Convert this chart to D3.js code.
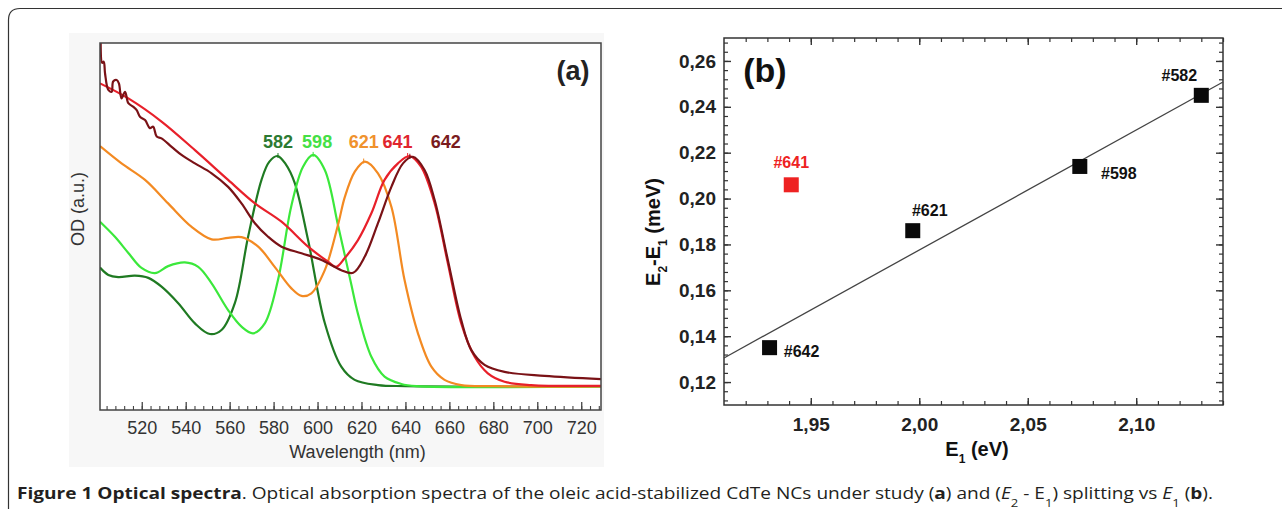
<!DOCTYPE html>
<html>
<head>
<meta charset="utf-8">
<script src="https://cdnjs.cloudflare.com/ajax/libs/d3/7.8.5/d3.min.js"></script>
<style>
  body { margin: 0; background: #fff; }
  svg { display: block; font-family: "Liberation Sans", Arial, sans-serif; }
</style>
</head>
<body>
<div id="fig"></div>
<script>
// ---- panel (a): absorption spectra, [wavelength (nm), OD (a.u.)]
var nc582 = [[501,0.388],[504.8,0.368],[509.3,0.362],[516.9,0.366],[523,0.360],[529,0.336],[536.6,0.291],
  [544.2,0.236],[551,0.207],[556.3,0.218],[562.4,0.292],[568.4,0.472],[574.5,0.627],[578,0.676],[581.8,0.692],
  [585.5,0.670],[589.6,0.619],[595.7,0.463],[603.3,0.237],[610.8,0.118],[616.9,0.082],[627.5,0.068],
  [640,0.065],[729,0.064]];
var nc598 = [[501,0.513],[507.8,0.472],[513.9,0.428],[519.9,0.387],[526,0.373],[532,0.392],[539.6,0.402],
  [545.7,0.390],[551.8,0.345],[559.3,0.272],[565.4,0.227],[570.7,0.209],[576,0.236],[582,0.354],[588,0.554],
  [593.4,0.663],[598,0.695],[603.3,0.654],[609.3,0.504],[612.4,0.422],[615.4,0.341],[618.4,0.262],
  [624.5,0.145],[630.5,0.091],[638.1,0.071],[645,0.065],[729,0.064]];
var nc621 = [[501,0.719],[510.8,0.672],[521.5,0.627],[532,0.563],[542.7,0.499],[551.8,0.465],[559.3,0.469],
  [565.4,0.471],[573,0.445],[580.5,0.390],[588,0.332],[592.7,0.311],[597.2,0.318],[603.3,0.381],[609.3,0.504],
  [612.4,0.580],[616.9,0.649],[621.5,0.677],[627.5,0.645],[633.6,0.554],[639.6,0.354],[645.7,0.209],
  [651.8,0.118],[657.8,0.082],[665.4,0.068],[680,0.065],[729,0.064]];
var nc641 = [[501,0.890],[513.9,0.849],[529,0.786],[544.2,0.708],[559.3,0.627],[571.5,0.563],[583.6,0.513],
  [595.7,0.445],[604.8,0.404],[608.5,0.390],[612.4,0.414],[618.4,0.463],[624.5,0.536],[630.5,0.627],
  [636.6,0.672],[641.9,0.692],[647.1,0.663],[653.3,0.563],[659.3,0.400],[665.4,0.236],[671.5,0.145],
  [677.5,0.100],[685.1,0.077],[697.2,0.068],[729,0.066]];
var nc642 = [[501.3,1.000],[502,0.946],[502.7,0.949],[503.3,0.917],[504.8,0.872],[506.3,0.867],[507,0.895],
  [508.6,0.899],[509.6,0.890],[510.8,0.849],[512.4,0.867],[513.9,0.836],[516.2,0.826],[517.7,0.817],
  [519.2,0.799],[521.5,0.790],[523.7,0.768],[525.2,0.772],[526.8,0.745],[529,0.740],[533.6,0.717],
  [538.1,0.695],[544.2,0.672],[551.8,0.645],[559.3,0.608],[565.4,0.563],[571.5,0.509],[577.5,0.472],
  [583.6,0.445],[592.7,0.427],[601.8,0.409],[610.8,0.381],[616.2,0.374],[621.5,0.418],[627.5,0.509],
  [633.6,0.608],[638.9,0.672],[643.4,0.690],[648.7,0.654],[653.3,0.572],[659.3,0.409],[665.4,0.245],
  [670,0.163],[676,0.123],[685.1,0.104],[703.3,0.093],[729,0.084]];
var sampleNames = ["582", "598", "621", "641", "642"];
var peakNm = [582, 598, 621, 641, 642];
var wavelengthTicks = [520, 540, 560, 580, 600, 620, 640, 660, 680, 700, 720];

// ---- panel (b): splitting vs E1
var pointLabels = ["#642", "#641", "#621", "#598", "#582"];
var e1Values = [1.931, 1.941, 1.997, 2.074, 2.130];
var splitValues = [0.135, 0.206, 0.186, 0.214, 0.245];
var fitE1 = [1.91, 2.14];
var fitSplit = [0.1305, 0.2508];
var e1Ticks = [1.95, 2.00, 2.05, 2.10];
var splitTicks = [0.12, 0.14, 0.16, 0.18, 0.20, 0.22, 0.24, 0.26];

var W = 1282, H = 509;
var svg = d3.select("#fig").append("svg")
    .attr("width", W)
    .attr("height", H);

// outer figure frame (open at right and bottom)
svg.append("path")
  .attr("d", "M8.5," + (H + 5) + " L8.5,20 Q8.5,8.5 20,8.5 L" + (W + 5) + ",8.5")
  .attr("fill", "none")
  .attr("stroke", "#333")
  .attr("stroke-width", 1.2);

// ================= panel (a)
var a = {left: 100, right: 601, top: 43, bottom: 410};

svg.append("rect")
  .attr("x", 69).attr("y", 33).attr("width", 535).attr("height", 434)
  .attr("fill", "#f7f7f7");
svg.append("rect")
  .attr("x", a.left).attr("y", a.top)
  .attr("width", a.right - a.left).attr("height", a.bottom - a.top)
  .attr("fill", "#fff");

var xa = d3.scaleLinear().domain([501, 729]).range([a.left, a.right]);
var ya = d3.scaleLinear().domain([0, 1]).range([a.bottom, a.top]);

var color = d3.scaleOrdinal()
  .domain(sampleNames)
  .range(["#1f7a22", "#3be83b", "#f38a22", "#e8202a", "#7a1216"]);
var labelColor = d3.scaleOrdinal()
  .domain(sampleNames)
  .range(["#2d7a32", "#45e045", "#f0922e", "#e0262e", "#7a1c1e"]);

svg.append("clipPath").attr("id", "clipA")
  .append("rect")
    .attr("x", a.left).attr("y", a.top - 2)
    .attr("width", a.right - a.left).attr("height", a.bottom - a.top + 2);

var line = d3.line()
  .x(function(d) { return xa(d[0]); })
  .y(function(d) { return ya(d[1]); })
  .curve(d3.curveCatmullRom.alpha(0.5));

var spectra = [nc582, nc598, nc621, nc641, nc642];
svg.append("g")
  .attr("clip-path", "url(#clipA)")
  .selectAll("path")
  .data(spectra)
  .enter()
  .append("path")
    .attr("d", line)
    .attr("fill", "none")
    .attr("stroke", function(d, i) { return color(sampleNames[i]); })
    .attr("stroke-width", 2.2)
    .attr("stroke-linejoin", "round");

// little peak markers, on the data point nearest to each peak position
function peakValue(d, i) {
  var best = d[0];
  d.forEach(function(p) { if (Math.abs(p[0] - peakNm[i]) < Math.abs(best[0] - peakNm[i])) best = p; });
  return best[1];
}
svg.append("g")
  .selectAll("line")
  .data(spectra)
  .enter()
  .append("line")
    .attr("x1", function(d, i) { return xa(peakNm[i]); })
    .attr("x2", function(d, i) { return xa(peakNm[i]); })
    .attr("y1", function(d, i) { return ya(peakValue(d, i)) - 3; })
    .attr("y2", function(d, i) { return ya(peakValue(d, i)) + 2; })
    .attr("stroke", function(d, i) { return color(sampleNames[i]); })
    .attr("stroke-width", 1);

// peak labels
var peakShift = {"582": 0, "598": 4, "621": 0, "641": -10, "642": 36};
svg.append("g")
  .selectAll("text")
  .data(sampleNames)
  .enter()
  .append("text")
    .attr("x", function(d, i) { return xa(peakNm[i]) + peakShift[d]; })
    .attr("y", ya(0.715))
    .attr("text-anchor", "middle")
    .style("font-size", "18px")
    .style("font-weight", "bold")
    .style("fill", function(d) { return labelColor(d); })
    .text(function(d) { return d; });

// x axis with inward ticks
var axA = svg.append("g")
  .attr("transform", "translate(0," + a.bottom + ")")
  .call(d3.axisBottom(xa).tickValues(wavelengthTicks).tickSizeInner(-8).tickSizeOuter(0).tickPadding(11));
axA.select(".domain").remove();
axA.selectAll(".tick line").attr("stroke", "#444").attr("stroke-width", 1.3);
axA.selectAll("text").style("font-size", "18px").style("fill", "#333");

var axAmin = svg.append("g")
  .attr("transform", "translate(0," + a.bottom + ")")
  .call(d3.axisBottom(xa).tickValues(d3.range(504, 729, 4)).tickSizeInner(-4).tickSizeOuter(0).tickFormat(""));
axAmin.select(".domain").remove();
axAmin.selectAll(".tick line").attr("stroke", "#444").attr("stroke-width", 1.1);

svg.append("rect")
  .attr("x", a.left).attr("y", a.top)
  .attr("width", a.right - a.left).attr("height", a.bottom - a.top)
  .attr("fill", "none")
  .attr("stroke", "#444")
  .attr("stroke-width", 1.5);

svg.append("text")
  .attr("x", (a.left + a.right) / 2 + 7)
  .attr("y", 458)
  .attr("text-anchor", "middle")
  .style("font-size", "18px")
  .style("fill", "#333")
  .text("Wavelength (nm)");

svg.append("text")
  .attr("transform", "translate(84,209) rotate(-90)")
  .attr("text-anchor", "middle")
  .style("font-size", "18px")
  .style("fill", "#333")
  .text("OD (a.u.)");

svg.append("text")
  .attr("x", 573).attr("y", 80)
  .attr("text-anchor", "middle")
  .style("font-size", "27px")
  .style("font-weight", "bold")
  .style("fill", "#222")
  .text("(a)");

// ================= panel (b)
var b = {left: 724, right: 1223, top: 38, bottom: 405};
var xb = d3.scaleLinear().domain([1.91, 2.14]).range([b.left, b.right]);
var yb = d3.scaleLinear().domain([0.11, 0.27]).range([b.bottom, b.top]);
var comma = function(d) { return d3.format(".2f")(d).replace(".", ","); };

function ticksB(axis, pos, major, minor, lab) {
  var g = svg.append("g").attr("transform", pos)
    .call(axis.tickValues(major).tickSizeInner(-7).tickSizeOuter(0)
      .tickPadding(lab ? lab : 3).tickFormat(lab ? comma : ""));
  g.select(".domain").remove();
  g.selectAll(".tick line").attr("stroke", "#333").attr("stroke-width", 1.4);
  g.selectAll("text").style("font-size", "19px").style("font-weight", "bold").style("fill", "#222");
  var m = svg.append("g").attr("transform", pos)
    .call(axis.tickValues(minor).tickSizeInner(-4).tickSizeOuter(0).tickFormat(""));
  m.select(".domain").remove();
  m.selectAll(".tick line").attr("stroke", "#333").attr("stroke-width", 1.2);
}
var minorE1 = d3.range(1.92, 2.141, 0.01);
var minorSplit = d3.range(0.112, 0.2701, 0.004);
ticksB(d3.axisBottom(xb), "translate(0," + b.bottom + ")", e1Ticks, minorE1, 13);
ticksB(d3.axisTop(xb), "translate(0," + b.top + ")", e1Ticks, minorE1, 0);
ticksB(d3.axisLeft(yb), "translate(" + b.left + ",0)", splitTicks, minorSplit, 8);
ticksB(d3.axisRight(yb), "translate(" + b.right + ",0)", splitTicks, minorSplit, 0);

svg.append("rect")
  .attr("x", b.left).attr("y", b.top)
  .attr("width", b.right - b.left).attr("height", b.bottom - b.top)
  .attr("fill", "none")
  .attr("stroke", "#333")
  .attr("stroke-width", 1.5);

// linear fit
svg.append("line")
  .attr("x1", xb(fitE1[0])).attr("y1", yb(fitSplit[0]))
  .attr("x2", xb(fitE1[1])).attr("y2", yb(fitSplit[1]))
  .attr("stroke", "#444")
  .attr("stroke-width", 1.3);

// points
var size = 15;
svg.append("g")
  .selectAll("rect")
  .data(pointLabels)
  .enter()
  .append("rect")
    .attr("x", function(d, i) { return xb(e1Values[i]) - size / 2; })
    .attr("y", function(d, i) { return yb(splitValues[i]) - size / 2; })
    .attr("width", size)
    .attr("height", size)
    .attr("fill", function(d) { return d == "#641" ? "#ee2222" : "#0a0a0a"; });

var labelOffset = {"#642": [32, 4], "#641": [0, -23], "#621": [17, -20], "#598": [39, 7], "#582": [-22, -20]};
svg.append("g")
  .selectAll("text")
  .data(pointLabels)
  .enter()
  .append("text")
    .attr("x", function(d, i) { return xb(e1Values[i]) + labelOffset[d][0]; })
    .attr("y", function(d, i) { return yb(splitValues[i]) + labelOffset[d][1]; })
    .attr("dy", "0.36em")
    .attr("text-anchor", "middle")
    .style("font-size", "16px")
    .style("font-weight", "bold")
    .style("fill", function(d) { return d == "#641" ? "#ee2222" : "#111"; })
    .text(function(d) { return d; });

svg.append("text")
  .attr("x", 765).attr("y", 82)
  .attr("text-anchor", "middle")
  .style("font-size", "34px")
  .style("font-weight", "bold")
  .style("fill", "#111")
  .text("(b)");

// axis titles with subscripts
var xt = svg.append("text")
  .attr("x", 977).attr("y", 456)
  .attr("text-anchor", "middle")
  .style("font-size", "20px")
  .style("font-weight", "bold")
  .style("fill", "#111");
xt.append("tspan").text("E");
xt.append("tspan").attr("baseline-shift", "sub").style("font-size", "12px").text("1");
xt.append("tspan").text(" (eV)");

var yt = svg.append("text")
  .attr("transform", "translate(660,232) rotate(-90)")
  .attr("text-anchor", "middle")
  .style("font-size", "20px")
  .style("font-weight", "bold")
  .style("fill", "#111");
yt.append("tspan").text("E");
yt.append("tspan").attr("baseline-shift", "sub").style("font-size", "12px").text("2");
yt.append("tspan").text("-E");
yt.append("tspan").attr("baseline-shift", "sub").style("font-size", "12px").text("1");
yt.append("tspan").text(" (meV)");

// ================= caption
var cap = svg.append("text")
  .attr("x", 17).attr("y", 499)
  .style("font-family", "'Open Sans', 'Noto Sans', sans-serif")
  .style("font-size", "16px")
  .style("fill", "#231f20");
var parts = [
  ["Figure 1 Optical spectra", "b"], [". Optical absorption spectra of the oleic acid-stabilized CdTe NCs under study (", ""],
  ["a", "b"], [") and (", ""], ["E", "i"], ["2", "s"], [" - E", ""], ["1", "s"], [") splitting vs ", ""],
  ["E", "i"], ["1", "s"], [" (", ""], ["b", "b"], [").", ""]
];
parts.forEach(function(p) {
  var t = cap.append("tspan").text(p[0]);
  if (p[1] == "b") t.style("font-weight", "bold");
  if (p[1] == "i") t.style("font-style", "italic");
  if (p[1] == "s") t.attr("baseline-shift", "sub").style("font-size", "11px");
});
cap.attr("textLength", 1196).attr("lengthAdjust", "spacingAndGlyphs");
</script>
</body>
</html>
